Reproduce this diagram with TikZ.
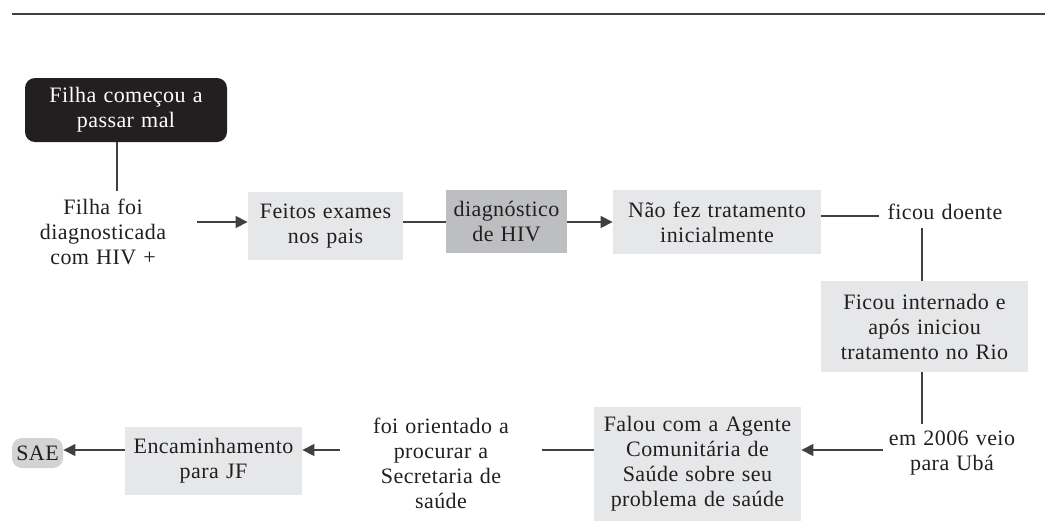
\documentclass[tikz,border=0pt]{standalone}
\usepackage{fontspec}
\setmainfont{Liberation Serif}[LetterSpace=2,WordSpace=1.2]
\usepackage{tikz}
\usetikzlibrary{arrows.meta}
\definecolor{inkgray}{HTML}{231F20}
\definecolor{palebox}{HTML}{E6E7E8}
\definecolor{midbox}{HTML}{BCBEC0}
\definecolor{saebox}{HTML}{D1D3D4}
\definecolor{rulegray}{HTML}{404040}

\begin{document}
\begin{tikzpicture}[x=0.5pt,y=-0.5pt,
    every node/.style={font=\fontsize{11}{12.5}\selectfont,text=inkgray,align=center},
    txt/.style={inner sep=4pt},
    palebx/.style={fill=palebox,inner sep=0pt},
    darkbx/.style={fill=midbox,inner sep=0pt},
    blackbx/.style={fill=inkgray,text=white,rounded corners=5pt,inner sep=0pt},
    saebx/.style={fill=saebox,rounded corners=5pt,inner sep=0pt},
    link/.style={draw=rulegray,line width=0.6pt},
    >={Triangle[length=6pt,width=6pt]}]
   \useasboundingbox (0,0) rectangle (1045,521);
   \draw[rulegray,line width=0.7pt] (12,14) -- (1045,14);

   \node[blackbx,minimum width=101pt,minimum height=32pt] (start) at (126,110) {Filha começou a\\passar mal};
   \node[txt,minimum width=94pt] (diag) at (103,232) {Filha foi\\diagnosticada\\com HIV +};
   \node[palebx,minimum width=77.5pt,minimum height=34pt] (exames) at (325.5,226) {Feitos exames\\nos pais};
   \node[darkbx,minimum width=60.5pt,minimum height=31.5pt] (hiv) at (506.5,221.5) {diagnóstico\\de HIV};
   \node[palebx,minimum width=104pt,minimum height=32pt] (naofez) at (717,222) {Não fez tratamento\\inicialmente};
   \node[txt] (doente) at (945,212) {ficou doente};
   \node[palebx,minimum width=103.5pt,minimum height=45.5pt] (internado) at (924.5,326.5) {Ficou internado e\\após iniciou\\tratamento no Rio};
   \node[txt,inner sep=3pt] (veio) at (952,453) {em 2006 veio\\para Ubá};
   \node[palebx,minimum width=103.5pt,minimum height=57pt] (falou) at (697.5,464) {Falou com a Agente\\Comunitária de\\Saúde sobre seu\\problema de saúde};
   \node[txt,minimum width=101pt] (orientado) at (441,463) {foi orientado a\\procurar a\\Secretaria de\\saúde};
   \node[palebx,minimum width=88.5pt,minimum height=34pt] (encam) at (213.5,461) {Encaminhamento\\para JF};
   \node[saebx,minimum width=25.5pt,minimum height=15pt] (sae) at (37.5,453) {SAE};

   \coordinate (rowtop) at (0,222);
   \coordinate (rowmid) at (0,216);
   \coordinate (rowlow) at (0,450);
   \coordinate (colleft) at (117,0);
   \coordinate (colright) at (922,0);

   \draw[link] (start.south -| colleft) -- (diag.north -| colleft);
   \draw[link,->] (diag.east |- rowtop) -- (exames.west |- rowtop);
   \draw[link] (exames.east |- rowtop) -- (hiv.west |- rowtop);
   \draw[link,->] (hiv.east |- rowtop) -- (naofez.west |- rowtop);
   \draw[link] (naofez.east |- rowmid) -- (doente.west |- rowmid);
   \draw[link] (doente.south -| colright) -- (internado.north -| colright);
   \draw[link] (internado.south -| colright) -- (veio.north -| colright);
   \draw[link,->] (veio.west |- rowlow) -- (falou.east |- rowlow);
   \draw[link] (falou.west |- rowlow) -- (orientado.east |- rowlow);
   \draw[link,->] (orientado.west |- rowlow) -- (encam.east |- rowlow);
   \draw[link,->] (encam.west |- rowlow) -- (sae.east |- rowlow);
\end{tikzpicture}
\end{document}
